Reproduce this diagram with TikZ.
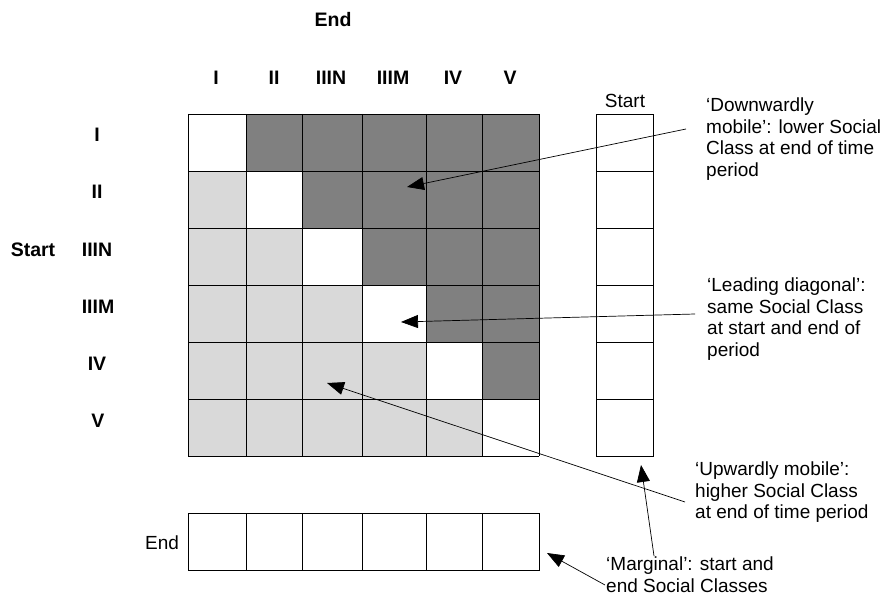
\documentclass[tikz,border=0pt]{standalone}
\usepackage{fontspec}
\setmainfont{Liberation Sans}
\usetikzlibrary{arrows.meta}
\definecolor{darkcell}{HTML}{808080}
\definecolor{lightcell}{HTML}{D9D9D9}
\begin{document}
\begin{tikzpicture}[x=1pt,y=-1pt,
  lbl/.style={font=\fontsize{19}{21.5}\selectfont, inner sep=0},
  hdr/.style={font=\bfseries\fontsize{19.5}{22}\selectfont, inner sep=0},
  note/.style={font=\fontsize{19}{21.4}\selectfont, inner sep=0, anchor=north west, align=left},
  cellline/.style={draw=black, line width=0.8pt},
  pointer/.style={-{Triangle[length=17pt,width=13pt]}, line width=0.7pt}]
\useasboundingbox (0,0) rectangle (890,609);

% main matrix
\foreach \r/\ya/\yb in {0/114/171,1/171/228,2/228/285,3/285/342,4/342/399,5/399/456}{
  \foreach \c/\xa/\xb in {0/188/246,1/246/302,2/302/362,3/362/426,4/426/482,5/482/539}{
    \ifnum\c>\r
      \fill[darkcell] (\xa,\ya) rectangle (\xb,\yb);
    \else\ifnum\c<\r
      \fill[lightcell] (\xa,\ya) rectangle (\xb,\yb);
    \fi\fi
  }
}
\foreach \xx in {188,246,302,362,426,482,539}{\draw[cellline] (\xx,114) -- (\xx,456);}
\foreach \yy in {114,171,228,285,342,399,456}{\draw[cellline] (188,\yy) -- (539,\yy);}

% start marginal column
\foreach \yy in {171,228,285,342,399}{\draw[cellline] (596,\yy) -- (653,\yy);}
\draw[cellline] (596,114) rectangle (653,456);
% end marginal row
\foreach \xx in {246,302,362,426,482}{\draw[cellline] (\xx,513) -- (\xx,570);}
\draw[cellline] (188,513) rectangle (539,570);

% headers
\node[hdr] (endtop) at (333,20) {End};
\node[hdr] (cI) at (216,78) {I};
\node[hdr] (cII) at (274,78) {II};
\node[hdr] (cIIIN) at (331,78) {IIIN};
\node[hdr] (cIIIM) at (393,78) {IIIM};
\node[hdr] (cIV) at (453,78) {IV};
\node[hdr] (cV) at (510,78) {V};
\node[hdr] (startleft) at (33,250) {Start};
\node[hdr] (rI) at (97,135) {I};
\node[hdr] (rII) at (97,192) {II};
\node[hdr] (rIIIN) at (97,250) {IIIN};
\node[hdr] (rIIIM) at (98,307) {IIIM};
\node[hdr] (rIV) at (97,364) {IV};
\node[hdr] (rV) at (98,421) {V};
\node[lbl] (startcol) at (625,101) {Start};
\node[lbl] (endrow) at (162,543) {End};

% notes
\node[note] (down) at (706,98) {‘Downwardly\\mobile’: lower Social\\Class at end of time\\period};
\node[note] (lead) at (707,278) {‘Leading diagonal’:\\same Social Class\\at start and end of\\period};
\node[note] (up) at (695,462) {‘Upwardly mobile’:\\higher Social Class\\at end of time period};
\node[note] (marg) at (606,557) {‘Marginal’: start and\\end Social Classes};

% arrow coordinates
\coordinate (downS) at (686,129);  \coordinate (downT) at (407,187);
\coordinate (leadS) at (695,314);  \coordinate (leadT) at (401,322);
\coordinate (upS) at (685,502);    \coordinate (upT) at (327,383);
\coordinate (margS1) at (654,556); \coordinate (margT1) at (641,465);
\coordinate (margS2) at (605,585); \coordinate (margT2) at (547,553);

\draw[pointer] (downS) -- (downT);
\draw[pointer] (leadS) -- (leadT);
\draw[pointer] (upS) -- (upT);
\draw[pointer] (margS1) -- (margT1);
\draw[pointer] (margS2) -- (margT2);
\end{tikzpicture}
\end{document}
